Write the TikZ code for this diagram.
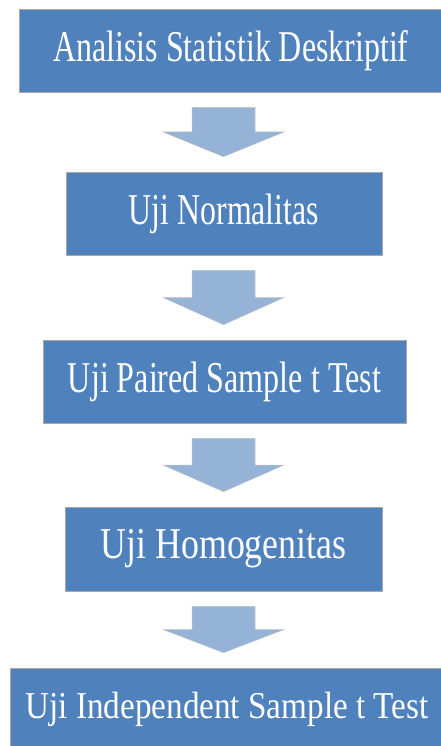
\documentclass[tikz,border=0pt]{standalone}
\usepackage{fontspec}
\setmainfont{Liberation Serif}
\usetikzlibrary{calc}
\definecolor{boxblue}{HTML}{4F81BD}
\definecolor{arrowblue}{HTML}{95B3D7}
\definecolor{edgegray}{HTML}{A8A8A8}
\tikzset{
  stepbox/.style={draw=edgegray, line width=0.6pt, fill=boxblue, text=white,
    inner sep=0pt, minimum height=83pt, font=\fontsize{44}{50}\selectfont},
  blockarrowstyle/.style={draw=edgegray!70, line width=0.5pt, fill=arrowblue},
}
\newcommand\fitw[2]{\resizebox{#1}{\height}{#2}}
\newcommand\blockarrow[2]{%
  \draw[blockarrowstyle] let \p1=(#1.south), \p2=(#2.north),
    \n1={\y1-15pt}, \n2={\y2+15pt}, \n3={(\n1+\n2)/2} in
    (192pt,\n1) -- (255pt,\n1) -- (255pt,\n3) -- (284pt,\n3) --
    (223.5pt,\n2) -- (163pt,\n3) -- (192pt,\n3) -- cycle;}
\begin{document}
\begin{tikzpicture}[x=1pt,y=-1pt]
\useasboundingbox (0,0) rectangle (441,746);
\begin{scope}
\clip (0,0) rectangle (441,746);
\node[stepbox, minimum width=424pt] (b1) at (231,50.5) {\fitw{355pt}{Analisis Statistik Deskriptif}};
\node[stepbox, minimum width=316pt] (b2) at (224,213.5) {\fitw{190pt}{Uji Normalitas}};
\node[stepbox, minimum width=363pt] (b3) at (224.5,381.5) {\fitw{313pt}{Uji Paired Sample t Test}};
\node[stepbox, minimum width=317pt, minimum height=84pt] (b4) at (223.5,549) {\fitw{246pt}{Uji Homogenitas}};
\node[stepbox, minimum width=434pt, minimum height=82pt, font=\fontsize{38}{44}\selectfont] (b5) at (227,709) {\fitw{403pt}{Uji Independent Sample t Test}};
\blockarrow{b1}{b2}
\blockarrow{b2}{b3}
\blockarrow{b3}{b4}
\blockarrow{b4}{b5}
\end{scope}
\end{tikzpicture}
\end{document}
